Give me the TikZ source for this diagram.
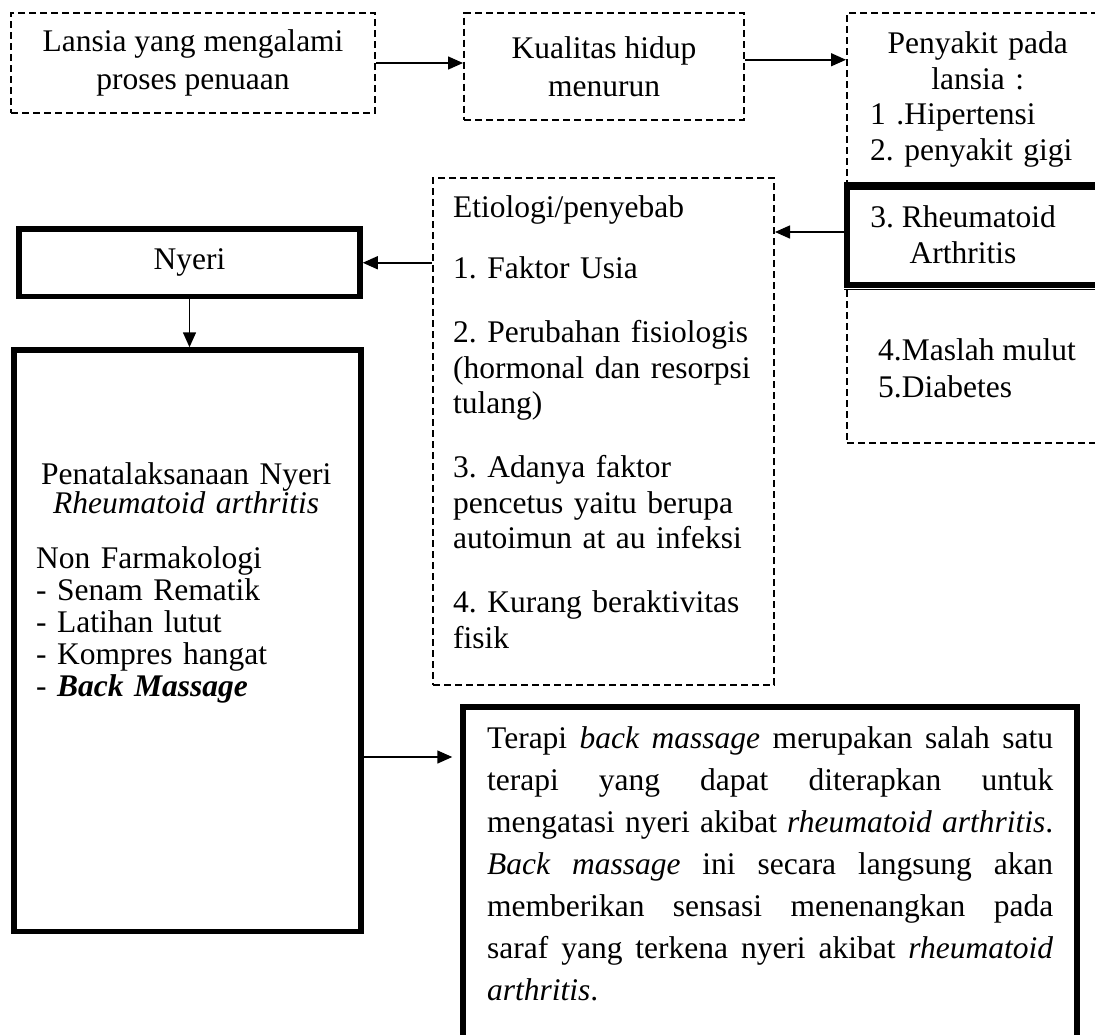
\documentclass[tikz,border=0pt]{standalone}
\usepackage{fontspec}
\setmainfont{Liberation Serif}
\usetikzlibrary{arrows.meta,positioning,calc}
\setlength{\parindent}{0pt}
\frenchspacing

\begin{document}
\begin{tikzpicture}[x=1pt, y=-1pt,
    font=\fontsize{31.5}{36}\selectfont,
    kotakputus/.style={draw, line width=2pt, dash pattern=on 7pt off 4pt, inner sep=0pt},
    kotaktebal/.style={draw, line width=5.5pt, inner sep=0pt},
    teks/.style={inner sep=0pt, anchor=north west, align=left},
    panah/.style={-{Triangle[length=15pt,width=13pt]}, line width=1.5pt}]
    \useasboundingbox (0,0) rectangle (1095,1034);
    \clip (0,0) rectangle (1095,1034);
    % Alur atas: lansia, kualitas hidup, penyakit
    \node[kotakputus, minimum width=364pt, minimum height=100pt, align=center, font=\fontsize{31.5}{38}\selectfont] (lansia) at (193,63) {Lansia yang mengalami\\proses penuaan};
    \node[kotakputus, minimum width=280pt, minimum height=106.5pt, align=center, font=\fontsize{31.5}{38}\selectfont] (kualitas) at (604,66.25) {Kualitas hidup\\menurun};
    \node[kotakputus, minimum width=290pt, minimum height=430pt, anchor=north west] (penyakit) at (846,12) {};
    \node[kotaktebal, minimum width=290pt, minimum height=98pt, anchor=north west] (ra) at (844.25,184.25) {};
    \draw[line width=1.5pt] ([yshift=1.5pt]ra.north west) -- ([yshift=1.5pt]ra.north east);
    \draw[line width=1.5pt] ([yshift=-1.5pt]ra.south west) -- ([yshift=-1.5pt]ra.south east);
    \node[teks, text width=215pt, font=\fontsize{31.5}{35.7}\selectfont] (daftar) at (870,31.5) {\centering Penyakit pada\\lansia :\par\raggedright 1 .Hipertensi\\2. penyakit gigi};
    \node[align=center] (ratext) at (963,234.5) {3. Rheumatoid\\Arthritis};
    \node[teks, font=\fontsize{31.5}{37}\selectfont] (lainnya) at (878,338.5) {4.Maslah mulut\\5.Diabetes};
    % Etiologi dan nyeri
    \node[kotakputus, minimum width=341pt, minimum height=507pt] (etiologi) at (603.5,431.5) {};
    \node[teks, text width=318pt, font=\fontsize{31.5}{35.5}\selectfont] (penyebab) at (453,195.5) {Etiologi/penyebab\par\vspace{25.5pt}
        1. Faktor Usia\par\vspace{28.5pt}
        2. Perubahan fisiologis\\(hormonal dan resorpsi\\tulang)\par\vspace{28.5pt}
        3. Adanya faktor\\pencetus yaitu berupa\\autoimun at au infeksi\par\vspace{28.5pt}
        4. Kurang beraktivitas\\fisik};
    \node[kotaktebal, minimum width=341pt, minimum height=67.5pt] (nyeri) at (189.5,262.75) {Nyeri};
    \node[kotaktebal, minimum width=347pt, minimum height=581.5pt] (tatalaksana) at (187.5,640.75) {};
    \node[teks, text width=300pt] (langkah) at (36,462.5) {{\baselineskip=29pt \centering Penatalaksanaan Nyeri\\\textit{Rheumatoid arthritis}\par}
        \vspace{23pt}
        {\baselineskip=32pt Non Farmakologi\\- Senam Rematik\\- Latihan lutut\\- Kompres hangat\\- \textbf{\textit{Back Massage}}\par}};
    % Terapi back massage
    \node[kotaktebal, minimum width=614pt, minimum height=400pt, anchor=north] (terapi) at (770,704.25) {};
    \node[teks, text width=566pt, align=justify, font=\fontsize{31.5}{42}\selectfont] (terapiteks) at (487,726.5) {\tolerance=10000 \hyphenpenalty=10000 Terapi \textit{back massage} merupakan salah satu\linebreak
        terapi yang dapat diterapkan untuk\linebreak
        mengatasi nyeri akibat \textit{rheumatoid arthritis}.\linebreak
        \textit{Back massage} ini secara langsung akan\linebreak
        memberikan sensasi menenangkan pada\linebreak
        saraf yang terkena nyeri akibat \textit{rheumatoid}\linebreak
        \textit{arthritis}.};
    % Panah
    \coordinate (kualitaskanan) at ([yshift=6.5pt]kualitas.east);
    \coordinate (rakiri) at ([yshift=4pt]ra.west);
    \coordinate (masukterapi) at ($(terapi.north west)+(0,52.75)$);
    \draw[panah] (lansia.east) -- (lansia.east -| kualitas.west);
    \draw[panah] (kualitaskanan) -- (kualitaskanan -| penyakit.west);
    \draw[panah] (rakiri) -- (rakiri -| etiologi.east);
    \draw[panah] (etiologi.west |- nyeri.east) -- (nyeri.east);
    \draw[panah] (nyeri.south) -- (tatalaksana.north -| nyeri.south);
    \draw[panah, shorten >=8pt] (tatalaksana.east |- masukterapi) -- (masukterapi);
\end{tikzpicture}
\end{document}
